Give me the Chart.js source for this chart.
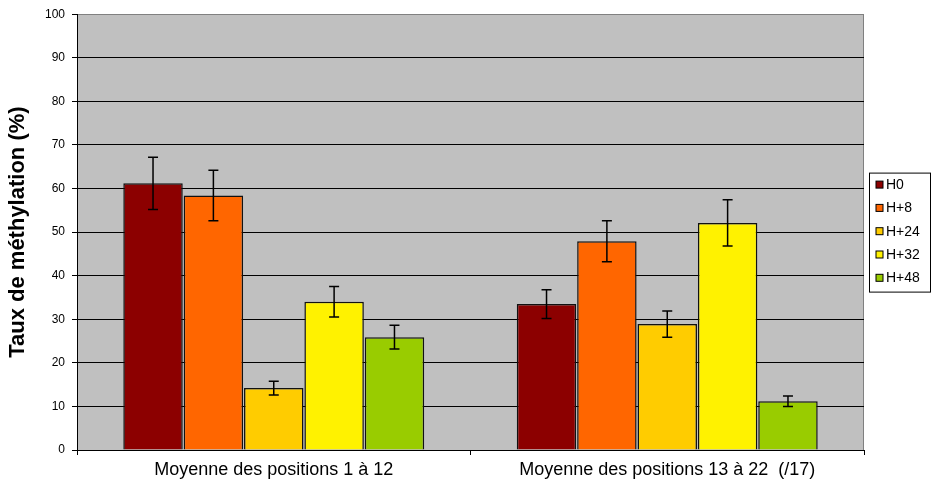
<!DOCTYPE html>
<html>
<head>
<meta charset="utf-8">
<script src="https://cdn.jsdelivr.net/npm/chart.js@4/dist/chart.umd.min.js"></script>
<style>
  html, body { margin: 0; padding: 0; background: #fff; }
  #wrap { width: 937px; height: 490px; }
</style>
</head>
<body>
<div id="wrap"><canvas id="chart"></canvas></div>
<script>
'use strict';

/// data
const categories = ['Moyenne des positions 1 à 12', 'Moyenne des positions 13 à 22  (/17)'];
const seriesNames = ['H0', 'H+8', 'H+24', 'H+32', 'H+48'];
const seriesColors = ['#8c0000', '#ff6600', '#ffcc00', '#fff200', '#99cc00'];
const valuesH0 = [61.2, 33.5];
const valuesH8 = [58.4, 47.9];
const valuesH24 = [14.2, 28.9];
const valuesH32 = [34.0, 52.1];
const valuesH48 = [25.9, 11.2];
const errorsH0 = [6.0, 3.3];
const errorsH8 = [5.8, 4.7];
const errorsH24 = [1.6, 3.0];
const errorsH32 = [3.5, 5.3];
const errorsH48 = [2.7, 1.2];
const yTicks = [0, 10, 20, 30, 40, 50, 60, 70, 80, 90, 100];

const allValues = [valuesH0, valuesH8, valuesH24, valuesH32, valuesH48];
const allErrors = [errorsH0, errorsH8, errorsH24, errorsH32, errorsH48];

const FONT = "'Liberation Sans', Arial, sans-serif";

//////////////////////////////////////////////////////
/// plugins
const plotBackground = {
  id: 'plotBackground',
  beforeDraw(chart) {
    const { ctx, chartArea: a } = chart;
    ctx.save();
    ctx.fillStyle = '#c0c0c0';
    ctx.fillRect(a.left, a.top, a.right - a.left, a.bottom - a.top);
    ctx.strokeStyle = '#808080';
    ctx.lineWidth = 1;
    ctx.beginPath();
    ctx.moveTo(a.right - 0.5, a.top);
    ctx.lineTo(a.right - 0.5, a.bottom);
    ctx.stroke();
    ctx.restore();
  },
};

const errorBars = {
  id: 'errorBars',
  afterDatasetsDraw(chart) {
    const { ctx } = chart;
    const y = chart.scales.y;
    ctx.save();
    ctx.strokeStyle = '#000';
    ctx.lineWidth = 1.5;
    chart.data.datasets.forEach((ds, i) => {
      const meta = chart.getDatasetMeta(i);
      meta.data.forEach((bar, j) => {
        const v = ds.data[j];
        const e = allErrors[i][j];
        const top = y.getPixelForValue(v + e);
        const bot = y.getPixelForValue(v - e);
        ctx.beginPath();
        ctx.moveTo(bar.x, top);
        ctx.lineTo(bar.x, bot);
        ctx.moveTo(bar.x - 5, top);
        ctx.lineTo(bar.x + 5, top);
        ctx.moveTo(bar.x - 5, bot);
        ctx.lineTo(bar.x + 5, bot);
        ctx.stroke();
      });
    });
    ctx.restore();
  },
};

const boxedLegend = {
  id: 'boxedLegend',
  afterDraw(chart) {
    const { ctx, chartArea: a } = chart;
    const w = 61, rowH = 23.3, h = 119;
    const left = a.right + 5;
    const top = (a.top + a.bottom) / 2 - h / 2;
    ctx.save();
    ctx.fillStyle = '#fff';
    ctx.fillRect(left, top, w, h);
    ctx.strokeStyle = '#000';
    ctx.lineWidth = 1;
    ctx.strokeRect(left + 0.5, top + 0.5, w, h);
    ctx.font = '14px ' + FONT;
    ctx.textBaseline = 'middle';
    chart.data.datasets.forEach((ds, i) => {
      const cy = top + 12 + i * rowH;
      ctx.fillStyle = ds.backgroundColor;
      ctx.fillRect(left + 7, cy - 3.5, 7, 7);
      ctx.strokeStyle = '#000';
      ctx.strokeRect(left + 7, cy - 3.5, 7, 7);
      ctx.fillStyle = '#000';
      ctx.fillText(ds.label, left + 17, cy + 0.5);
    });
    ctx.restore();
  },
};

//////////////////////////////////////////////////////
/// chart
const datasets = seriesNames.map((name, i) => ({
  label: name,
  data: allValues[i],
  backgroundColor: seriesColors[i],
  borderColor: '#111',
  borderWidth: 1.5,
  categoryPercentage: 0.767,
  barPercentage: 0.985,
}));

new Chart(document.getElementById('chart'), {
  type: 'bar',
  data: { labels: categories, datasets },
  options: {
    responsive: true,
    maintainAspectRatio: false,
    animation: false,
    layout: { padding: { top: 12, right: 73, bottom: 0, left: 0 } },
    plugins: {
      legend: { display: false },
      tooltip: { enabled: false },
    },
    scales: {
      x: {
        offset: true,
        afterFit: (s) => { s.height = 40; },
        grid: {
          offset: true,
          drawOnChartArea: false,
          drawTicks: true,
          tickLength: 5,
          color: '#000',
        },
        border: { color: '#000', width: 1 },
        ticks: {
          color: '#000',
          padding: 4,
          font: { family: FONT, size: 18 },
          maxRotation: 0,
        },
      },
      y: {
        min: 0,
        max: 100,
        afterFit: (s) => { s.width = 77; },
        afterBuildTicks: (s) => { s.ticks = yTicks.map((v) => ({ value: v })); },
        grid: {
          color: (c) => (c.tick && c.tick.value === 100 ? '#808080' : '#000'),
          lineWidth: 1,
          tickLength: 5,
          tickColor: '#000',
        },
        border: { color: '#000', width: 1 },
        ticks: {
          color: '#000',
          padding: 7,
          font: { family: FONT, size: 12 },
        },
        title: {
          display: true,
          text: 'Taux de méthylation (%)',
          color: '#000',
          padding: { top: 5, bottom: 0 },
          font: { family: FONT, size: 22, weight: 'bold' },
        },
      },
    },
  },
  plugins: [plotBackground, errorBars, boxedLegend],
});
</script>
</body>
</html>
